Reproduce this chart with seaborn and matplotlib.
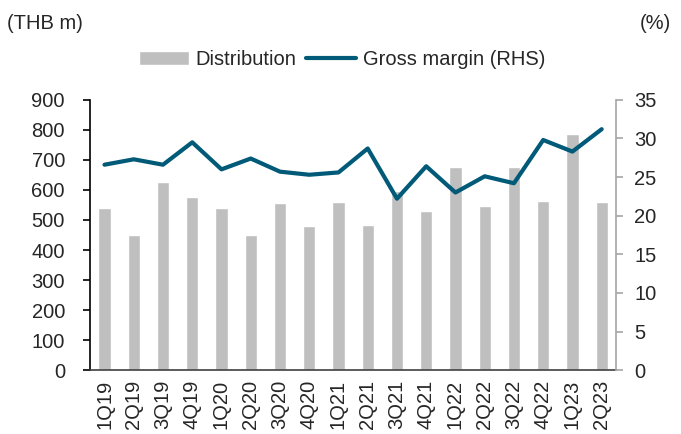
import numpy as np
import pandas as pd
import matplotlib
matplotlib.use('Agg')
import matplotlib.pyplot as plt
import seaborn as sns

quarters = ['1Q19', '2Q19', '3Q19', '4Q19', '1Q20', '2Q20', '3Q20', '4Q20', '1Q21',
            '2Q21', '3Q21', '4Q21', '1Q22', '2Q22', '3Q22', '4Q22', '1Q23', '2Q23']
distribution = [540, 451, 625, 575, 540, 451, 558, 479, 561,
                482, 597, 529, 677, 547, 676, 563, 787, 560]
gross_margin = [26.6, 27.3, 26.6, 29.5, 26.0, 27.4, 25.7, 25.3, 25.6,
                28.7, 22.2, 26.4, 23.0, 25.1, 24.2, 29.8, 28.3, 31.2]

bar_color = '#BFBFBF'
line_color = '#005A78'

sns.set_style('white')
plt.rcParams['font.family'] = ['Liberation Sans', 'DejaVu Sans']
plt.rcParams['font.size'] = 14.5

df = pd.DataFrame({'quarter': quarters, 'dist': distribution,
                   'gm': gross_margin, 'pos': np.arange(len(quarters))})

fig, ax = plt.subplots(figsize=(6.81, 4.34), dpi=100)
fig.subplots_adjust(left=0.132, right=0.905, top=0.77, bottom=0.147)

sns.barplot(data=df, x='quarter', y='dist', color=bar_color, width=0.42,
            saturation=1, ax=ax, label='Distribution')
ax2 = ax.twinx()
sns.lineplot(data=df, x='pos', y='gm', color=line_color, linewidth=3,
             ax=ax2, label='Gross margin (RHS)')

n = len(quarters)
ax.set_xlim(-0.5, n - 0.5)
ax.set_ylim(0, 900)
ax.set_yticks(range(0, 901, 100))
ax2.set_ylim(0, 35)
ax2.set_yticks(range(0, 36, 5))

ax.set_xticks(np.arange(n))
ax.set_xticklabels(quarters, rotation=90)
ax.set_xticks(np.arange(n + 1) - 0.5, minor=True)
ax.tick_params(axis='x', which='major', length=0, pad=7)
ax.tick_params(axis='x', which='minor', length=5, width=1.2, color='black', direction='out')
ax.tick_params(axis='y', length=5, width=1.2, color='black', direction='out', pad=13)
ax2.tick_params(axis='y', length=5, width=1.2, color='#A6A6A6', direction='out', pad=8)

for a in (ax, ax2):
    a.set_xlabel('')
    a.set_ylabel('')
    a.spines['top'].set_visible(False)
ax.spines['right'].set_visible(False)
ax.spines['left'].set_color('black')
ax.spines['left'].set_linewidth(1.2)
ax.spines['bottom'].set_color('#404040')
ax.spines['bottom'].set_linewidth(1.2)
ax2.spines['left'].set_visible(False)
ax2.spines['bottom'].set_visible(False)
ax2.spines['right'].set_color('#A6A6A6')
ax2.spines['right'].set_linewidth(1.2)

h1, l1 = ax.get_legend_handles_labels()
h2, l2 = ax2.get_legend_handles_labels()
if ax.get_legend():
    ax.get_legend().remove()
if ax2.get_legend():
    ax2.get_legend().remove()
fig.legend(h1 + h2, l1 + l2, loc='center', bbox_to_anchor=(0.502, 0.862), ncol=2,
           frameon=False, handlelength=2.5, handletextpad=0.3, columnspacing=0.5)

fig.text(0.010, 0.947, '(THB m)', ha='left', va='center')
fig.text(0.986, 0.947, '(%)', ha='right', va='center')

fig.savefig('out.png', dpi=100)
